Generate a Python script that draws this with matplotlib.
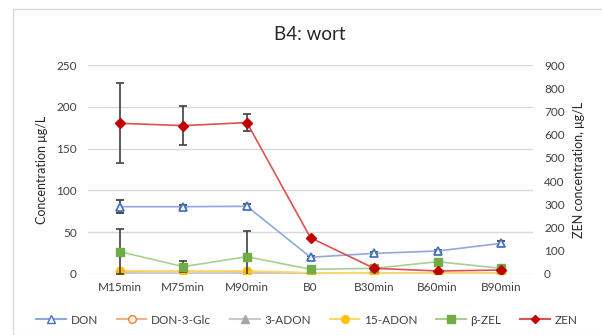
import matplotlib
matplotlib.use("Agg")
import matplotlib.pyplot as plt
from matplotlib.patches import Rectangle
from matplotlib.lines import Line2D

plt.rcParams['font.family'] = ['Lato', 'DejaVu Sans']

categories = ["M15min", "M75min", "M90min", "B0", "B30min", "B60min", "B90min"]

don = [80.5, 80.5, 81, 20, 24.7, 27.5, 36.7]
don_err = [8, 2, 3, 2, 1.5, 1.5, 3]
don3glc = [2.5, 3.0, 2.5, 1.0, 1.0, 1.0, 1.0]
adon3 = [1.0, 1.0, 1.0, 0.5, 0.5, 0.5, 0.5]
adon15 = [3.8, 3.5, 3.8, 1.5, 0.5, 0.5, 0.5]
bzel = [26.7, 8.8, 20.7, 5.6, 6.8, 14.7, 6.8]
bzel_err = [27, 6.5, 31, 0, 0, 0, 0]
zen = [649, 639, 652, 156, 24.5, 13, 17]
zen_err = [173, 84, 36, 0, 0, 0, 0]

left_ticks = [0, 50, 100, 150, 200, 250]
right_ticks = [0, 100, 200, 300, 400, 500, 600, 700, 800, 900]

W, H = 602, 335
fig = plt.figure(figsize=(W / 100, H / 100), dpi=100)
fig.patches.append(Rectangle((13 / W, 0), 1, 1 - 9 / H, transform=fig.transFigure,
                             fill=False, edgecolor="#D9D9D9", linewidth=1))

ax = fig.add_axes([88 / W, 1 - 274 / H, (533 - 88) / W, (274 - 65) / H])
ax2 = ax.twinx()

x = list(range(len(categories)))
err_kw = dict(ecolor="#404040", elinewidth=1.2, capsize=3, capthick=1.2)

ax.errorbar(x, don, yerr=don_err, color="#8EA9DB", linewidth=1.2, marker="^",
            markersize=5.5, markerfacecolor="white", markeredgecolor="#4472C4",
            markeredgewidth=1.3, zorder=4, **err_kw)
ax.plot(x, don3glc, color="#F4B183", linewidth=1.2, marker="o", markersize=5.5,
        markerfacecolor="white", markeredgecolor="#ED7D31", markeredgewidth=1.2, zorder=3)
ax.plot(x, adon3, color="#C9C9C9", linewidth=1.2, marker="^", markersize=5.5,
        markerfacecolor="#A5A5A5", markeredgecolor="#A5A5A5", zorder=3)
ax.plot(x, adon15, color="#FFD966", linewidth=1.2, marker="o", markersize=6,
        markerfacecolor="#FFC000", markeredgecolor="#FFC000", zorder=3)
ax.errorbar(x, bzel, yerr=bzel_err, color="#A9D18E", linewidth=1.2, marker="s",
            markersize=6, markerfacecolor="#70AD47", markeredgecolor="#70AD47",
            zorder=3, **err_kw)

ax2.errorbar(x, zen, yerr=zen_err, color="#E05050", linewidth=1.2, marker="D",
             markersize=5, markerfacecolor="#C00000", markeredgecolor="#C00000",
             zorder=5, **err_kw)

ax.set_xlim(-0.5, len(categories) - 0.5)
ax.set_ylim(0, 250)
ax2.set_ylim(0, 900)
ax.set_yticks(left_ticks)
ax2.set_yticks(right_ticks)
ax.set_xticks(x)
ax.set_xticklabels(categories)

for a in (ax, ax2):
    for s in a.spines.values():
        s.set_visible(False)
    a.tick_params(length=0, labelsize=8.5, colors="#404040")
ax.tick_params(axis="x", pad=6)
ax.tick_params(axis="y", pad=8)
ax2.tick_params(axis="y", pad=8)
ax.grid(axis="y", color="#D9D9D9", linewidth=1)
ax.set_axisbelow(True)

ax.set_ylabel("Concentration μg/L", fontsize=9, color="#262626", labelpad=6)
ax2.set_ylabel("ZEN concentration, μg/L", fontsize=9, color="#262626", labelpad=6)
fig.text(310 / W, 1 - 34 / H, "B4: wort", ha="center", va="center",
         fontsize=13.5, color="#262626")

handles = [
    Line2D([], [], color="#8EA9DB", marker="^", markerfacecolor="white",
           markeredgecolor="#4472C4", markersize=5.5),
    Line2D([], [], color="#F4B183", marker="o", markerfacecolor="white",
           markeredgecolor="#ED7D31", markersize=5.5),
    Line2D([], [], color="#C9C9C9", marker="^", markerfacecolor="#A5A5A5",
           markeredgecolor="#A5A5A5", markersize=5.5),
    Line2D([], [], color="#FFD966", marker="o", markerfacecolor="#FFC000",
           markeredgecolor="#FFC000", markersize=5.5),
    Line2D([], [], color="#A9D18E", marker="s", markerfacecolor="#70AD47",
           markeredgecolor="#70AD47", markersize=5.5),
    Line2D([], [], color="#E05050", marker="D", markerfacecolor="#C00000",
           markeredgecolor="#C00000", markersize=4.5),
]
labels = ["DON", "DON-3-Glc", "3-ADON", "15-ADON", "β-ZEL", "ZEN"]
fig.legend(handles, labels, loc="center", bbox_to_anchor=(307 / W, 1 - 320 / H),
           ncol=6, frameon=False, fontsize=8.5, handlelength=2.5,
           columnspacing=1.6, handletextpad=0.4, labelcolor="#404040")

fig.savefig("out.png", dpi=100)
